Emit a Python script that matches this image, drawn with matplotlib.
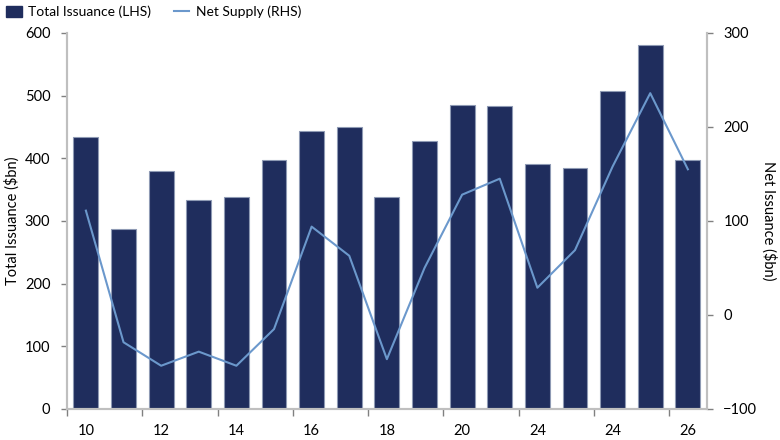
import numpy as np
import matplotlib
matplotlib.use("Agg")
from matplotlib import pyplot as plt
from matplotlib.lines import Line2D
from matplotlib.patches import Patch

plt.rcParams['font.family'] = ['Lato', 'DejaVu Sans']

# data
tick_labels = ['10', '12', '14', '16', '18', '20', '24', '24', '26']
total_issuance = [434, 287, 379, 333, 338, 397, 444, 450, 338, 427,
                  485, 483, 391, 384, 507, 581, 397]
net_supply = [111, -29, -54, -39, -54, -15, 94, 63, -47, 50,
              128, 145, 29, 69, 158, 236, 155]

navy = '#1f2d5d'
light_blue = '#6b98cc'
grey = '#bfbfbf'

x = np.arange(len(total_issuance))

fig = plt.figure(figsize=(7.8, 4.4), dpi=100)
ax = fig.add_axes([0.086, 0.0705, 0.82, 0.8545])
ax2 = ax.twinx()

ax.bar(x, total_issuance, width=0.66, color=navy, edgecolor='#8e9ab4', linewidth=0.8, zorder=2)
ax2.plot(x, net_supply, color=light_blue, linewidth=1.5, zorder=3)

ax.set_xlim(-0.5, len(x) - 0.5)
ax.set_ylim(0, 600)
ax.set_yticks(np.arange(0, 601, 100))
ax2.set_ylim(-100, 300)
ax2.set_yticks(np.arange(-100, 301, 100))

# tick marks on group boundaries, labels under every other bar
ax.set_xticks(np.arange(-0.5, len(x), 2))
ax.set_xticklabels([])
ax.set_xticks(x[::2], minor=True)
ax.set_xticklabels(tick_labels, minor=True)
ax.tick_params(axis='x', which='major', length=5, width=1, color='#808080')
ax.tick_params(axis='x', which='minor', length=0, pad=11, labelsize=10.5)
ax.tick_params(axis='y', length=4, width=1, color='#808080', labelsize=10.5, pad=8)
ax2.tick_params(axis='y', length=4, width=1, color='#808080', labelsize=10.5, pad=8)

for a in (ax, ax2):
    a.spines['top'].set_visible(False)
    for s in ('left', 'right', 'bottom'):
        a.spines[s].set_color(grey)
        a.spines[s].set_linewidth(1.5)

ax.set_ylabel('Total Issuance ($bn)', fontsize=10.5, labelpad=4)
ax2.set_ylabel('Net Issuance ($bn)', fontsize=10.5, rotation=270, labelpad=14)

handles = [Patch(facecolor=navy, edgecolor=navy),
           Line2D([0], [0], color=light_blue, linewidth=1.5)]
fig.legend(handles, ['Total Issuance (LHS)', 'Net Supply (RHS)'],
           loc='upper left', bbox_to_anchor=(-0.008, 1.015), ncol=2, frameon=False,
           fontsize=10, handlelength=1.1, handleheight=0.8, columnspacing=1.6,
           handletextpad=0.5)

fig.savefig('out.png', dpi=100)
